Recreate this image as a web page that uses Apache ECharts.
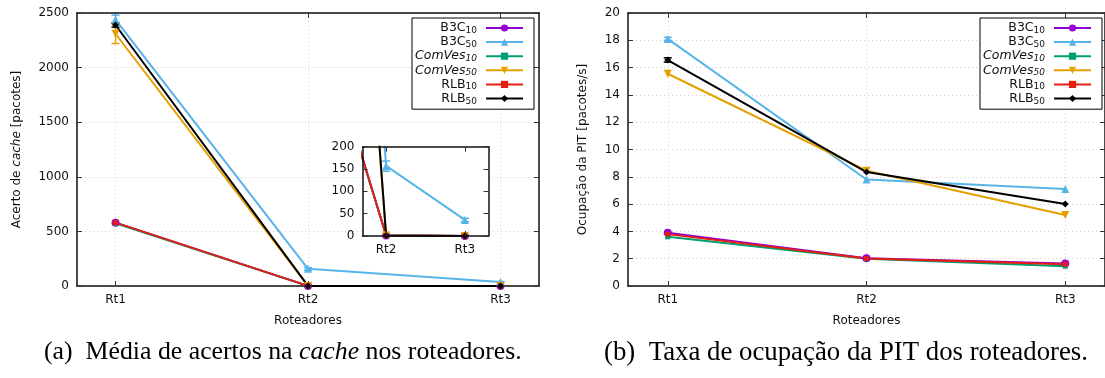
<!DOCTYPE html>
<html>
<head>
<meta charset="utf-8">
<script src="https://cdn.jsdelivr.net/npm/echarts@6/dist/echarts.min.js"></script>
<style>
  html, body { margin: 0; padding: 0; background: #fff; }
  #main { width: 1105px; height: 378px; }
</style>
</head>
<body>
<div id="main"></div>
<script>
// routers on the x axis
var routers = [1, 2, 3];
var seriesNames = ['B3C10', 'B3C50', 'ComVes10', 'ComVes50', 'RLB10', 'RLB50'];

// (a) acertos na cache [pacotes]
var cacheB3C10 = [580, 1, 0];
var cacheB3C50 = [2440, 157, 36];
var cacheComVes10 = [575, 1, 0];
var cacheComVes50 = [2310, 1, 0];
var cacheRLB10 = [580, 1, 0];
var cacheRLB50 = [2390, 1, 0];
// error bars [x, low, high]
var cacheErrB3C50 = [[1, 2405, 2480], [2, 145, 168], [3, 32, 40]];
var cacheErrComVes50 = [[1, 2220, 2400]];
var cacheErrRLB50 = [[1, 2370, 2410]];

// (b) ocupacao da PIT [pacotes/s]
var pitB3C10 = [3.9, 2.03, 1.65];
var pitB3C50 = [18.1, 7.8, 7.1];
var pitComVes10 = [3.6, 2.0, 1.45];
var pitComVes50 = [15.55, 8.45, 5.2];
var pitRLB10 = [3.8, 2.02, 1.6];
var pitRLB50 = [16.55, 8.35, 6.0];
var pitErrRLB50 = [[1, 16.4, 16.72]];
var pitErrB3C50 = [[1, 18.0, 18.22]];

var colors = ['#9400d3', '#56b4e9', '#009e73', '#e69f00', '#e51e10', '#000000'];
var symbols = ['circle', 'triangle', 'rect', 'triangle', 'rect', 'diamond'];
var symbolSizes = [8, 8, 5, 8, 5, 7];
var symbolRot = [0, 0, 0, 180, 0, 0];

var FONT = 'DejaVu Sans';
var cacheData = [cacheB3C10, cacheB3C50, cacheComVes10, cacheComVes50, cacheRLB10, cacheRLB50];
var pitData = [pitB3C10, pitB3C50, pitComVes10, pitComVes50, pitRLB10, pitRLB50];

function pairs(vals) {
  return routers.map(function (x, i) { return [x, vals[i]]; });
}

function lineSeries(vals, k, xi, yi, z) {
  return {
    name: seriesNames[k],
    type: 'line',
    xAxisIndex: xi,
    yAxisIndex: yi,
    data: pairs(vals),
    symbol: symbols[k],
    symbolSize: symbolSizes[k],
    symbolRotate: symbolRot[k],
    showAllSymbol: true,
    clip: true,
    z: z,
    color: colors[k],
    lineStyle: { width: 2, color: colors[k] },
    itemStyle: { color: colors[k] },
    emphasis: { disabled: true },
    animation: false
  };
}

function errSeries(data, k, xi, yi, z) {
  return {
    type: 'custom',
    xAxisIndex: xi,
    yAxisIndex: yi,
    data: data,
    clip: true,
    z: z,
    silent: true,
    renderItem: function (params, api) {
      var x = api.value(0);
      var lo = api.coord([x, api.value(1)]);
      var hi = api.coord([x, api.value(2)]);
      var st = { stroke: colors[k], lineWidth: 1.5 };
      return {
        type: 'group',
        children: [
          { type: 'line', shape: { x1: lo[0], y1: lo[1], x2: hi[0], y2: hi[1] }, style: st },
          { type: 'line', shape: { x1: lo[0] - 4, y1: lo[1], x2: lo[0] + 4, y2: lo[1] }, style: st },
          { type: 'line', shape: { x1: hi[0] - 4, y1: hi[1], x2: hi[0] + 4, y2: hi[1] }, style: st }
        ]
      };
    }
  };
}

var tickStyle = { show: true, inside: true, length: 5, lineStyle: { color: '#333', width: 1 } };
var labelStyle = { fontFamily: FONT, fontSize: 12, color: '#111', margin: 8 };
var gridLine = { show: true, lineStyle: { color: '#cfcfcf', width: 1, type: [1, 3] } };
var border = { show: true, onZero: false, lineStyle: { color: '#111', width: 1.5 } };

function xPair(grid, min, max, ticks, showName, split, z) {
  return [
    {
      type: 'value', gridIndex: grid, position: 'bottom', min: min, max: max, z: z,
      axisLine: border,
      axisTick: Object.assign({ customValues: ticks }, tickStyle),
      axisLabel: Object.assign({ customValues: ticks, formatter: function (v) { return 'Rt' + Math.round(v); } }, labelStyle),
      splitLine: split ? gridLine : { show: false },
      name: showName ? 'Roteadores' : '',
      nameLocation: 'middle',
      nameGap: 29,
      nameTextStyle: { fontFamily: FONT, fontSize: 12, color: '#111' }
    },
    {
      type: 'value', gridIndex: grid, position: 'top', min: min, max: max, z: z,
      axisLine: border,
      axisTick: Object.assign({ customValues: ticks }, tickStyle),
      axisLabel: { show: false },
      splitLine: { show: false }
    }
  ];
}

function yPair(grid, min, max, interval, name, gap, split, z) {
  return [
    {
      type: 'value', gridIndex: grid, position: 'left', min: min, max: max, interval: interval, z: z,
      axisLine: border,
      axisTick: tickStyle,
      axisLabel: Object.assign({ formatter: function (v) { return String(v); } }, labelStyle),
      splitLine: split ? gridLine : { show: false },
      name: name,
      nameLocation: 'middle',
      nameGap: gap,
      nameTextStyle: {
        fontFamily: FONT, fontSize: 12, color: '#111',
        rich: {
          a: { fontFamily: FONT, fontSize: 12, color: '#111' },
          i: { fontFamily: FONT, fontSize: 12, color: '#111', fontStyle: 'italic' }
        }
      }
    },
    {
      type: 'value', gridIndex: grid, position: 'right', min: min, max: max, interval: interval, z: z,
      axisLine: border,
      axisTick: tickStyle,
      axisLabel: { show: false },
      splitLine: { show: false }
    }
  ];
}

function legendAt(left, top) {
  return {
    orient: 'vertical',
    left: left,
    top: top,
    align: 'right',
    data: seriesNames,
    itemWidth: 37,
    itemHeight: 9,
    itemGap: 0.4,
    padding: [3.5, 10, 3.5, 3],
    borderColor: '#000',
    borderWidth: 1,
    backgroundColor: '#fff',
    selectedMode: false,
    z: 10,
    formatter: function (name) {
      var base = name.slice(0, -2), sub = name.slice(-2);
      var it = base === 'ComVes';
      return '{' + (it ? 'ni' : 'n') + '|' + base + '}{' + (it ? 'si' : 's') + '|' + sub + '}';
    },
    textStyle: {
      width: 61,
      align: 'right',
      padding: [0, 4, 0, 0],
      rich: {
        n: { fontFamily: FONT, fontSize: 12.5, color: '#111', lineHeight: 14.4, verticalAlign: 'middle' },
        s: { fontFamily: FONT, fontSize: 9, color: '#111', lineHeight: 6, verticalAlign: 'bottom' },
        ni: { fontFamily: FONT, fontSize: 12.5, color: '#111', lineHeight: 14.4, fontStyle: 'italic', verticalAlign: 'middle' },
        si: { fontFamily: FONT, fontSize: 9, color: '#111', lineHeight: 6, fontStyle: 'italic', verticalAlign: 'bottom' }
      }
    }
  };
}

var series = [];
cacheData.forEach(function (v, k) { series.push(lineSeries(v, k, 0, 0, 2)); });
series.push(errSeries(cacheErrB3C50, 1, 0, 0, 2));
series.push(errSeries(cacheErrComVes50, 3, 0, 0, 2));
series.push(errSeries(cacheErrRLB50, 5, 0, 0, 2));
// inset
cacheData.forEach(function (v, k) { series.push(lineSeries(v, k, 2, 2, 6)); });
series.push(errSeries(cacheErrB3C50, 1, 2, 2, 6));
// right chart
pitData.forEach(function (v, k) { series.push(lineSeries(v, k, 4, 4, 2)); });
series.push(errSeries(pitErrB3C50, 1, 4, 4, 2));
series.push(errSeries(pitErrRLB50, 5, 4, 4, 2));

var option = {
  animation: false,
  backgroundColor: '#fff',
  grid: [
    { left: 77, top: 13, width: 462, height: 273 },
    { left: 362.5, top: 146.7, width: 126, height: 89.3, show: true, borderWidth: 0, backgroundColor: '#fff', z: 4 },
    { left: 628, top: 13, width: 478, height: 273 }
  ],
  xAxis: [].concat(
    xPair(0, 0.8, 3.2, routers, true, true, 1),
    xPair(1, 1.7, 3.3, [2, 3], false, false, 7),
    xPair(2, 0.8, 3.2, routers, true, true, 1)
  ),
  yAxis: [].concat(
    yPair(0, 0, 2500, 500, '{a|Acerto de }{i|cache}{a| [pacotes]}', 54, true, 1),
    yPair(1, 0, 200, 50, '', 0, false, 7),
    yPair(2, 0, 20, 2, 'Ocupação da PIT [pacotes/s]', 39, true, 1)
  ),
  legend: [legendAt(412, 18), legendAt(980, 18)],
  series: series,
  graphic: [
    {
      type: 'text', left: 44, top: 339, z: 20,
      style: {
        text: '{r|(a)  Média de acertos na }{i|cache}{r| nos roteadores.}',
        rich: {
          r: { fontFamily: 'Liberation Serif', fontSize: 25.8, fill: '#000' },
          i: { fontFamily: 'Liberation Serif', fontSize: 25.8, fontStyle: 'italic', fill: '#000' }
        }
      }
    },
    {
      type: 'text', left: 604, top: 339, z: 20,
      style: {
        text: '(b)  Taxa de ocupação da PIT dos roteadores.',
        fontFamily: 'Liberation Serif', fontSize: 26.8, fill: '#000'
      }
    }
  ]
};

var chart = echarts.init(document.getElementById('main'), null, { renderer: 'canvas' });
chart.setOption(option);
</script>
</body>
</html>
